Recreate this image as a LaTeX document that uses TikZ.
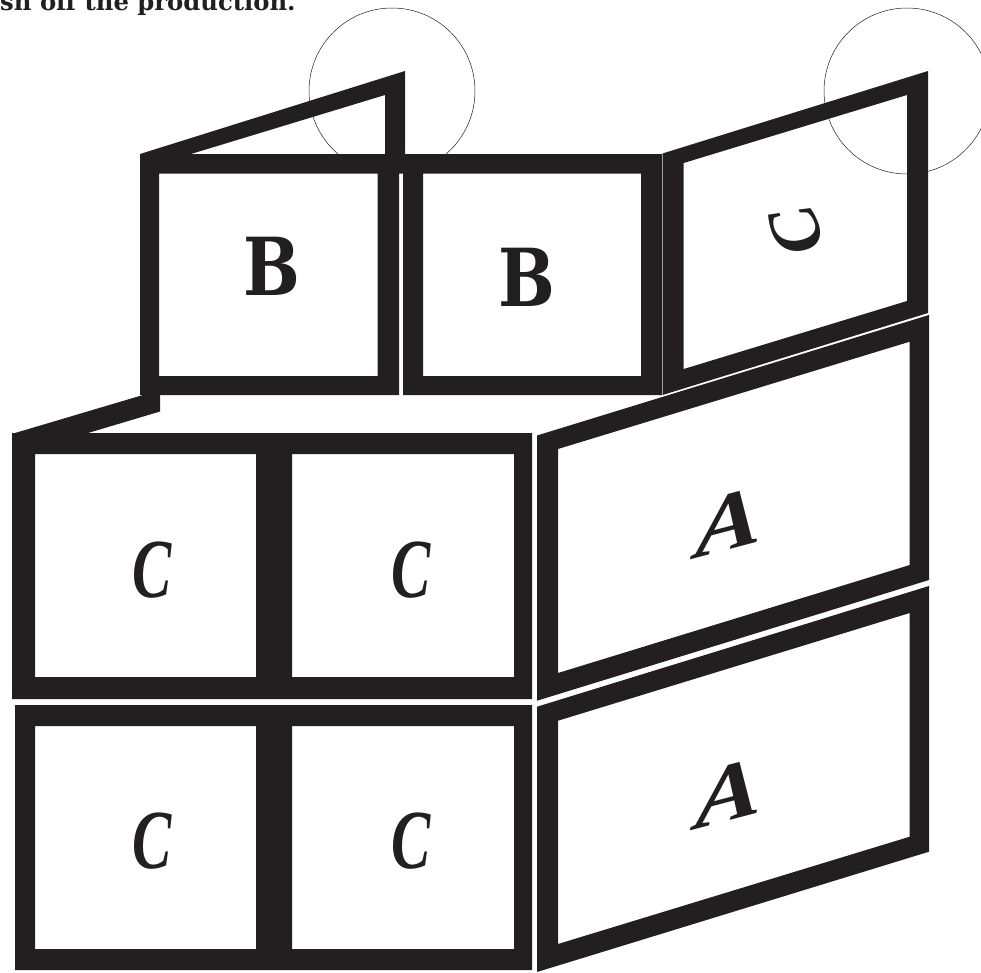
\documentclass[tikz,border=0pt]{standalone}
\usepackage{fontspec}
\newfontfamily\uprightfont{DejaVu Serif}
\newfontfamily\slantfont{Liberation Serif}
\definecolor{cInk}{HTML}{231F20}
\begin{document}
\begin{tikzpicture}[
  x=1pt, y=-1pt,
  frame/.style={fill=cInk, even odd rule},
  ring/.style={draw=cInk, line width=0.5pt},
  upletter/.style={text=cInk, inner sep=0pt, xscale=0.84, transform shape,
    font=\uprightfont\bfseries\fontsize{80}{80}\selectfont},
  itletter/.style={text=cInk, inner sep=0pt, font=\slantfont\bfseries\itshape\fontsize{84}{84}\selectfont},
  front/.style={itletter, xscale=0.7, transform shape},
  wall/.style={itletter, xscale=1.18, yslant=0.31, transform shape},
]
\useasboundingbox (0,0) rectangle (981,972);

% ---------- circles behind the boxes ----------
\draw[ring] (392,91) circle (83);
\draw[ring] (907,91) circle (83);

% ---------- top row ----------
\fill[white] (140,154) rectangle (662,395);
\fill[frame] (140,154) -- (405,71) -- (405,154) -- (385,154) -- (385,95) -- (191,154) -- cycle;
\fill[frame] (140,154) -- (662,154) -- (662,395) -- (403,395) -- (403,173.5) -- (399,173.5)
  -- (399,395) -- (140,395) -- cycle
  (159,173.5) rectangle (377.7,376)
  (423,173.5) rectangle (641,376);
\fill[frame] (662.5,153.5) -- (928,71) -- (928,313) -- (662.5,395) -- cycle
  (683.7,163) -- (907,95) -- (907,301) -- (683.7,369) -- cycle;

% ---------- step down to the lower boxes ----------
\fill[frame] (143,395) -- (160,395) -- (160,411.5) -- (88,433) -- (15,433) -- cycle;

% ---------- lower rows ----------
\fill[frame] (12,433) rectangle (532,699)
  (35,454) rectangle (256,677)
  (292,454) rectangle (514,677);
\fill[frame] (15,705) rectangle (532,970)
  (35,726) rectangle (256,949)
  (292,726) rectangle (514,949);
\fill[frame] (537,435.5) -- (929,315) -- (929,580) -- (537,700.7) -- cycle
  (558,449) -- (909.7,341.7) -- (909.7,565) -- (558,673) -- cycle;
\fill[frame] (537,706.7) -- (929,586) -- (929,851.7) -- (537,972) -- cycle
  (558,720.7) -- (909.7,613) -- (909.7,836.7) -- (558,944) -- cycle;

% ---------- labels ----------
\node[upletter] (bLeft) at (272,266) {B};
\node[upletter] (bRight) at (527,277) {B};
\node[itletter, font=\slantfont\bfseries\itshape\fontsize{70}{70}\selectfont, rotate=108] (cSide) at (797,231) {C};
\node[front] (cOne) at (152,570) {C};
\node[front] (cTwo) at (411,570) {C};
\node[front] (cThree) at (152,841) {C};
\node[front] (cFour) at (411,841) {C};
\node[wall] (aUpper) at (729,522) {A};
\node[wall] (aLower) at (729,793) {A};

% ---------- cut-off line of text ----------
\node[anchor=base west, inner sep=0pt, text=cInk, font=\uprightfont\bfseries\fontsize{24.3}{24.3}\selectfont]
  (caption) at (0,10) {sh off the production.};
\end{tikzpicture}
\end{document}
